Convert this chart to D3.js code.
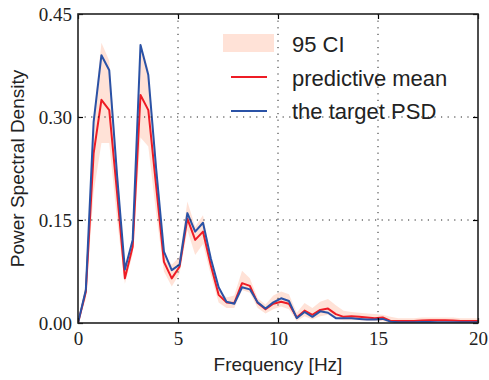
<!DOCTYPE html>
<html>
<head>
<meta charset="utf-8">
<script src="https://cdn.jsdelivr.net/npm/d3@7/dist/d3.min.js"></script>
<style>
  html, body { margin: 0; padding: 0; background: #fff; }
  svg { display: block; }
  .tick text { font-family: "Liberation Serif", "DejaVu Serif", serif; }
</style>
</head>
<body>
<svg id="chart" width="489" height="380"></svg>
<script>
// Frequency bins: 100 Hz sampling, 256-point FFT
const binWidth = 100 / 256;
const binCount = 53;

// Target power spectral density
const targetPSD = [
  0.000, 0.048, 0.293, 0.390, 0.368, 0.215, 0.078, 0.121, 0.405, 0.361,
  0.225, 0.104, 0.077, 0.085, 0.160, 0.133, 0.146, 0.094, 0.052, 0.031,
  0.028, 0.052, 0.049, 0.030, 0.021, 0.030, 0.036, 0.032, 0.007, 0.016,
  0.009, 0.017, 0.015, 0.007, 0.007, 0.007, 0.006, 0.005, 0.005, 0.006,
  0.002, 0.001, 0.001, 0.001, 0.0015, 0.0015, 0.001, 0.001, 0.001, 0.001,
  0.001, 0.001, 0.001
];

// Predictive mean
const predMean = [
  0.000, 0.045, 0.247, 0.325, 0.310, 0.190, 0.065, 0.111, 0.332, 0.310,
  0.200, 0.089, 0.065, 0.082, 0.152, 0.121, 0.133, 0.084, 0.041, 0.030,
  0.029, 0.058, 0.054, 0.029, 0.020, 0.028, 0.031, 0.028, 0.008, 0.018,
  0.012, 0.019, 0.021, 0.013, 0.009, 0.010, 0.009, 0.008, 0.007, 0.008,
  0.003, 0.003, 0.003, 0.003, 0.0035, 0.004, 0.004, 0.004, 0.0035, 0.003,
  0.003, 0.003, 0.003
];

// 95% credible interval bounds
const ciLower = [
  0.000, 0.035, 0.190, 0.262, 0.262, 0.150, 0.057, 0.100, 0.270, 0.257,
  0.160, 0.075, 0.053, 0.072, 0.135, 0.099, 0.115, 0.070, 0.030, 0.022,
  0.022, 0.048, 0.044, 0.022, 0.014, 0.020, 0.024, 0.020, 0.003, 0.010,
  0.005, 0.010, 0.012, 0.006, 0.004, 0.004, 0.004, 0.003, 0.003, 0.003,
  0.000, 0.000, 0.000, 0.000, 0.000, 0.000, 0.000, 0.000, 0.000, 0.000,
  0.000, 0.000, 0.000
];
const ciUpper = [
  0.003, 0.055, 0.300, 0.408, 0.382, 0.232, 0.075, 0.125, 0.408, 0.370,
  0.240, 0.100, 0.085, 0.097, 0.177, 0.140, 0.157, 0.097, 0.050, 0.037,
  0.040, 0.076, 0.065, 0.036, 0.027, 0.040, 0.046, 0.042, 0.015, 0.029,
  0.022, 0.031, 0.035, 0.026, 0.018, 0.016, 0.015, 0.014, 0.013, 0.012,
  0.009, 0.007, 0.007, 0.007, 0.008, 0.008, 0.008, 0.008, 0.008, 0.007,
  0.007, 0.007, 0.007
];

// Axis ticks
const xTicks = [0, 5, 10, 15, 20];
const yTicks = [0, 0.15, 0.30, 0.45];

const freqs = d3.range(binCount).map(k => k * binWidth);

const svg = d3.select("#chart");
const plotLeft = 78, plotRight = 478, plotTop = 14, plotBottom = 323;

const x = d3.scaleLinear().domain([0, 20]).range([plotLeft, plotRight]);
const y = d3.scaleLinear().domain([0, 0.45]).range([plotBottom, plotTop]);

svg.append("defs").append("clipPath").attr("id", "plotClip")
  .append("rect").attr("x", plotLeft).attr("y", plotTop)
  .attr("width", plotRight - plotLeft).attr("height", plotBottom - plotTop);

const plot = svg.append("g").attr("clip-path", "url(#plotClip)");

// Confidence band
const band = d3.area()
  .x((d, i) => x(freqs[i]))
  .y0((d, i) => y(ciLower[i]))
  .y1((d, i) => y(ciUpper[i]));
plot.append("path")
  .datum(freqs)
  .attr("d", band)
  .attr("fill", "#FFA07A")
  .attr("fill-opacity", 0.3);

const lineOf = arr => d3.line().x((d, i) => x(freqs[i])).y((d, i) => y(arr[i]));

plot.append("path").datum(freqs).attr("d", lineOf(predMean))
  .attr("fill", "none").attr("stroke", "#ee1c25").attr("stroke-width", 2)
  .attr("stroke-linejoin", "round");
plot.append("path").datum(freqs).attr("d", lineOf(targetPSD))
  .attr("fill", "none").attr("stroke", "#2a52a6").attr("stroke-width", 2)
  .attr("stroke-linejoin", "round");

// Dotted grid
const grid = svg.append("g")
  .attr("stroke", "#222").attr("stroke-width", 1)
  .attr("stroke-dasharray", "1.2,5.4");
grid.selectAll(".gx").data(xTicks.slice(1, -1)).enter().append("line")
  .attr("x1", d => x(d)).attr("x2", d => x(d))
  .attr("y1", plotTop).attr("y2", plotBottom);
grid.selectAll(".gy").data(yTicks.slice(1, -1)).enter().append("line")
  .attr("y1", d => y(d)).attr("y2", d => y(d))
  .attr("x1", plotLeft).attr("x2", plotRight);

// Axes with inward ticks
const tickFont = '"Liberation Serif", "DejaVu Serif", serif';
const xAxis = svg.append("g").attr("transform", `translate(0,${plotBottom})`)
  .call(d3.axisBottom(x).tickValues(xTicks).tickFormat(d3.format("d"))
    .tickSizeInner(-5).tickSizeOuter(0).tickPadding(9));
const xTop = svg.append("g").attr("transform", `translate(0,${plotTop})`)
  .call(d3.axisTop(x).tickValues(xTicks).tickFormat("")
    .tickSizeInner(-5).tickSizeOuter(0));
const yAxis = svg.append("g").attr("transform", `translate(${plotLeft},0)`)
  .call(d3.axisLeft(y).tickValues(yTicks).tickFormat(d3.format(".2f"))
    .tickSizeInner(-5).tickSizeOuter(0).tickPadding(6));
const yRight = svg.append("g").attr("transform", `translate(${plotRight},0)`)
  .call(d3.axisRight(y).tickValues(yTicks).tickFormat("")
    .tickSizeInner(-5).tickSizeOuter(0));

[xAxis, xTop, yAxis, yRight].forEach(g => {
  g.attr("font-family", tickFont).attr("font-size", 19);
  g.select(".domain").remove();
  g.selectAll(".tick line").attr("stroke", "#000").attr("stroke-width", 1.2);
  g.selectAll(".tick text").attr("fill", "#222");
});

// Frame
svg.append("rect")
  .attr("x", plotLeft).attr("y", plotTop)
  .attr("width", plotRight - plotLeft).attr("height", plotBottom - plotTop)
  .attr("fill", "none").attr("stroke", "#222").attr("stroke-width", 1.6);

// Axis titles
const sans = '"Liberation Sans", Arial, Helvetica, sans-serif';
svg.append("text")
  .attr("x", (plotLeft + plotRight) / 2).attr("y", 371)
  .attr("text-anchor", "middle")
  .attr("font-family", sans).attr("font-size", 19).attr("fill", "#222")
  .text("Frequency [Hz]");
svg.append("text")
  .attr("transform", `translate(24,${(plotTop + plotBottom) / 2}) rotate(-90)`)
  .attr("text-anchor", "middle")
  .attr("font-family", sans).attr("font-size", 19).attr("fill", "#222")
  .text("Power Spectral Density");

// Legend
const legend = svg.append("g");
legend.append("rect")
  .attr("x", 223).attr("y", 34).attr("width", 51).attr("height", 18)
  .attr("fill", "#FFA07A").attr("fill-opacity", 0.3);
legend.append("line")
  .attr("x1", 231).attr("x2", 267).attr("y1", 77).attr("y2", 77)
  .attr("stroke", "#ee1c25").attr("stroke-width", 2);
legend.append("line")
  .attr("x1", 231).attr("x2", 267).attr("y1", 111).attr("y2", 111)
  .attr("stroke", "#2a52a6").attr("stroke-width", 2);
const labels = ["95 CI", "predictive mean", "the target PSD"];
const baselines = [52, 86, 119];
labels.forEach((t, i) => {
  legend.append("text")
    .attr("x", 292).attr("y", baselines[i])
    .attr("font-family", sans).attr("font-size", 22).attr("fill", "#222")
    .text(t);
});
</script>
</body>
</html>
